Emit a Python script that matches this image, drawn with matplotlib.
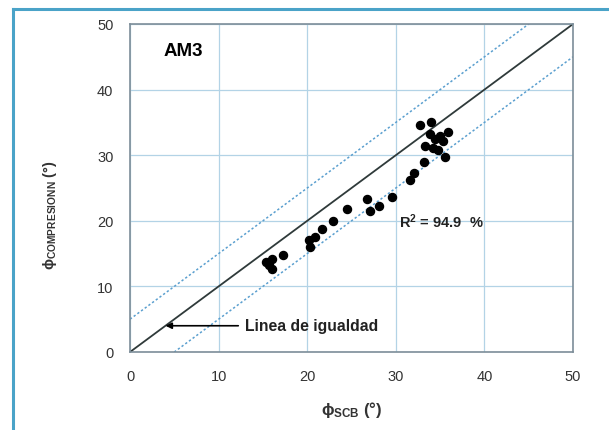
import matplotlib.pyplot as plt
import numpy as np
from matplotlib.lines import Line2D

plt.rcParams["font.family"] = ["Liberation Sans", "DejaVu Sans"]

phi_scb = [32.7, 34.0, 33.9, 35.0, 35.9, 35.3, 34.4, 33.3, 34.2, 34.8, 35.6,
           33.2, 32.0, 31.6, 29.6, 28.1, 26.8, 27.1, 24.5, 22.9, 21.7, 20.9,
           20.2, 20.3, 17.3, 16.0, 15.4, 16.0, 15.7]
phi_comp = [34.6, 35.1, 33.2, 32.9, 33.6, 32.1, 32.5, 31.4, 31.1, 30.8, 29.8,
            28.9, 27.3, 26.2, 23.6, 22.3, 23.3, 21.5, 21.8, 19.9, 18.8, 17.5,
            17.0, 16.0, 14.8, 14.2, 13.7, 12.7, 13.2]

ticks = [0, 10, 20, 30, 40, 50]
band = 5  # +/- band around the equality line

fig = plt.figure(figsize=(6.09, 4.31), dpi=100)
ax = fig.add_axes([0.2135, 0.181, 0.7275, 0.761])

grid_c = "#b3d3e6"
spine_c = "#7d8e99"
text_c = "#333333"

ax.set_xlim(0, 50)
ax.set_ylim(0, 50)
ax.set_xticks(ticks)
ax.set_yticks(ticks)
ax.grid(True, color=grid_c, linewidth=0.9)
ax.set_axisbelow(True)
ax.tick_params(length=0, labelsize=10.5, labelcolor=text_c, pad=12)
for s in ax.spines.values():
    s.set_color(spine_c)
    s.set_linewidth(1.2)

line = np.array([0, 50])
ax.plot(line, line, color="#2f3a3a", linewidth=1.3)
ax.plot(line, line + band, color="#5a9fcf", linewidth=1.1, linestyle=(0, (1.5, 1.5)))
ax.plot(line, line - band, color="#5a9fcf", linewidth=1.1, linestyle=(0, (1.5, 1.5)))

ax.plot(phi_scb, phi_comp, "o", color="black", markersize=5.8, linestyle="none")

ax.text(3.8, 46, "AM3", fontsize=13.5, fontweight="bold", va="center")
ax.text(30.4, 20, "R$\\mathregular{^2}$ = 94.9  %", fontsize=10.5, fontweight="bold",
        color="#222222", va="center")
ax.annotate("Linea de igualdad", xy=(4, 4), xytext=(13.0, 4),
            fontsize=11.3, fontweight="bold", color="#222222", va="center",
            arrowprops=dict(arrowstyle="-|>", color="black", lw=1.2,
                            shrinkA=3, shrinkB=0, mutation_scale=9))

ax.set_xlabel(r"$\mathregular{\phi_{SCB}}$ (°)", fontsize=12, fontweight="bold",
              color=text_c, labelpad=12)
ax.set_ylabel(r"$\mathregular{\phi_{COMPRESIONN}}$ (°)", fontsize=10.5,
              fontweight="bold", color=text_c)
ax.yaxis.set_label_coords(-0.16, 0.42)

# blue frame around the figure
border = "#4aa3c8"
fig.add_artist(Line2D([0.021, 0.021], [0, 0.977], color=border, lw=2.2,
                      transform=fig.transFigure))
fig.add_artist(Line2D([0.021, 1.0], [0.977, 0.977], color=border, lw=2.2,
                      transform=fig.transFigure))

fig.savefig("out.png", dpi=100)
